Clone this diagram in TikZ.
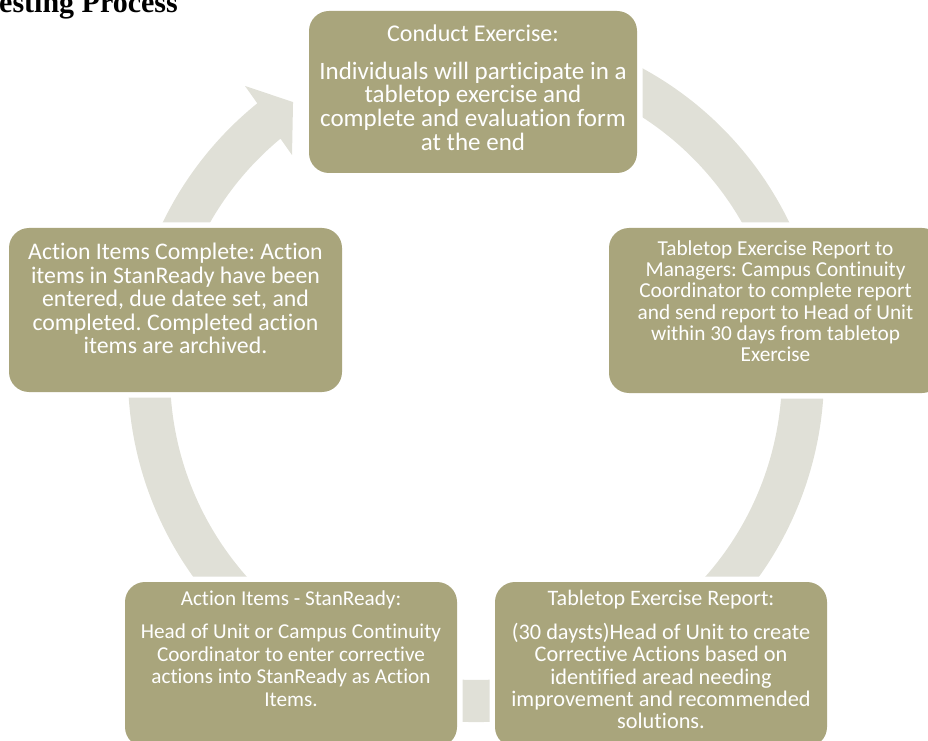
\documentclass[tikz,border=0pt]{standalone}
\usepackage{fontspec}
\setmainfont{Carlito}[Ligatures=NoCommon]
\newfontfamily\headfont{Liberation Serif}
\usetikzlibrary{calc}
\definecolor{boxfill}{HTML}{A9A57C}
\definecolor{ringfill}{HTML}{E0E0D7}
\frenchspacing

\begin{document}
\begin{tikzpicture}[x=1pt,y=1pt,
  stage/.style={rectangle, rounded corners=20pt, fill=boxfill, inner sep=0pt,
    preaction={draw=white, line width=11pt}},
  words/.style={text=white, align=center, inner sep=0pt}]
\useasboundingbox (0,0) rectangle (928,740);

% heading
\node[anchor=base west, inner sep=0pt, font=\headfont\bfseries\fontsize{30}{30}\selectfont]
  (heading) at (-1,727) {esting Process};

% cycle ring with its arrow head
\coordinate (c) at (476,366);
\coordinate (ob) at ($(c)+(128.73:369.2)$);
\coordinate (tip) at ($(c)+(123.93:327.8)$);
\coordinate (ib) at ($(c)+(130.04:286)$);
\coordinate (ie) at ($(c)+(129.72:306)$);
\fill[ringfill] ($(c)+(75:348)$) arc[start angle=75, end angle=-231.06, radius=348]
  -- (ob) -- (tip) -- (ib) -- (ie)
  arc[start angle=-230.28, end angle=75, radius=306] -- cycle;

% stage boxes
\node[stage, minimum width=328pt, minimum height=162pt] (top) at (473,648) {};
\node[stage, minimum width=333pt, minimum height=164pt] (left) at (175.5,430) {};
\node[stage, minimum width=333pt, minimum height=165pt] (right) at (775.5,429.5) {};
\node[stage, minimum width=332pt, minimum height=165pt] (botl) at (291,75.5) {};
\node[stage, minimum width=332pt, minimum height=165pt] (botr) at (661,75.5) {};

% box texts
\node[words, font=\fontsize{24}{24}\selectfont] (topT) at (473,707) {Conduct Exercise:};
\node[words, font=\fontsize{25}{23.7}\selectfont] (topB) at (473,634)
  {Individuals will participate in a\\tabletop exercise and\\complete and evaluation form\\at the end};

\node[words, font=\fontsize{23.8}{23.5}\selectfont] (leftB) at (175.5,441.5)
  {Action Items Complete: Action\\items in StanReady have been\\entered, due datee set, and\\completed. Completed action\\items are archived.};

\node[words, font=\fontsize{21.3}{21.2}\selectfont] (rightB) at (775.5,438.75)
  {Tabletop Exercise Report to\\Managers: Campus Continuity\\Coordinator to complete report\\and send report to Head of Unit\\within 30 days from tabletop\\Exercise};

\node[words, font=\fontsize{21.2}{21.2}\selectfont] (botlT) at (291,140) {Action Items - StanReady:};
\node[words, font=\fontsize{21.2}{22.7}\selectfont] (botlB) at (291,74.75)
  {Head of Unit or Campus Continuity\\Coordinator to enter corrective\\actions into StanReady as Action\\Items.};

\node[words, font=\fontsize{22.1}{22.1}\selectfont] (botrT) at (661,140) {Tabletop Exercise Report:};
\node[words, font=\fontsize{22.3}{22.3}\selectfont] (botrB) at (661,64)
  {(30 daysts)Head of Unit to create\\Corrective Actions based on\\identified aread needing\\improvement and recommended\\solutions.};
\end{tikzpicture}
\end{document}
